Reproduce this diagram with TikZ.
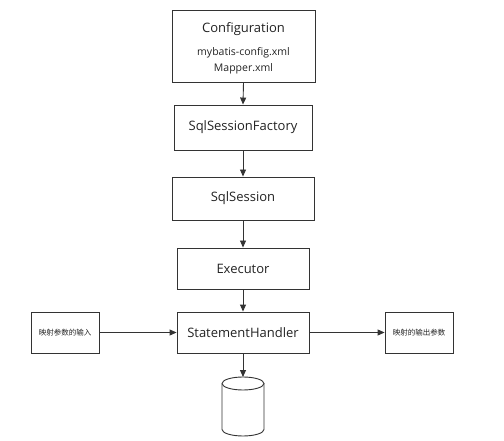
\documentclass[tikz,border=0pt]{standalone}
\usepackage{fontspec}
\setmainfont{Open Sans}
\newfontfamily\cjk{Noto Sans CJK SC}
\usetikzlibrary{arrows.meta,shapes.geometric}
\definecolor{ln}{HTML}{333333}
\definecolor{tx}{HTML}{222222}
\tikzset{
  box/.style={draw=ln, line width=0.9pt, text=tx, inner sep=0pt},
  arr/.style={draw=ln, line width=0.9pt, -{Triangle[length=7pt,width=6pt]}},
}
\begin{document}
\begin{tikzpicture}[x=1pt,y=-1pt]
\useasboundingbox (0,0) rectangle (504,441);
\node[box, minimum width=143pt, minimum height=72pt] (conf) at (243.5,46) {};
\node[text=tx, font=\fontsize{13}{15}\selectfont] (conft) at (243.5,29) {Configuration};
\node[text=tx, font=\fontsize{10.5}{12}\selectfont] (mc) at (243.5,53) {mybatis-config.xml};
\node[text=tx, font=\fontsize{10.5}{12}\selectfont] (mx) at (243.5,69) {Mapper.xml};
\node[box, minimum width=138pt, minimum height=45pt, font=\fontsize{13}{15}\selectfont] (ssf) at (243,127.5) {SqlSessionFactory};
\node[box, minimum width=142pt, minimum height=43pt, font=\fontsize{13}{15}\selectfont] (ss) at (243,198.5) {SqlSession};
\node[box, minimum width=132pt, minimum height=41pt, font=\fontsize{13}{15}\selectfont] (ex) at (243,268.5) {Executor};
\node[box, minimum width=132pt, minimum height=41pt, font=\fontsize{13}{15}\selectfont] (sh) at (243,332.5) {StatementHandler};
\node[box, minimum width=68pt, minimum height=41pt, font=\cjk\fontsize{7.5}{9}\selectfont] (in) at (65,332.5) {映射参数的输入};
\node[box, minimum width=68pt, minimum height=41pt, font=\cjk\fontsize{7.5}{9}\selectfont] (out) at (419,332.5) {映射的输出参数};
\coordinate (dbtop) at (243,377);
% cylinder
\draw[ln, line width=0.9pt] (222,383.5) arc[start angle=180, end angle=-180, x radius=21, y radius=6.5];
\draw[ln, line width=0.9pt] (222,383.5) -- (222,429.5) arc[start angle=180, end angle=0, x radius=21, y radius=6.5] -- (264,383.5);
\draw[arr] (conf.south) -- (ssf.north);
\draw[arr] (ssf.south) -- (ss.north);
\draw[arr] (ss.south) -- (ex.north);
\draw[arr] (ex.south) -- (sh.north);
\draw[arr] (sh.south) -- (dbtop);
\draw[arr] (in.east) -- (sh.west);
\draw[arr] (sh.east) -- (out.west);
\end{tikzpicture}
\end{document}
